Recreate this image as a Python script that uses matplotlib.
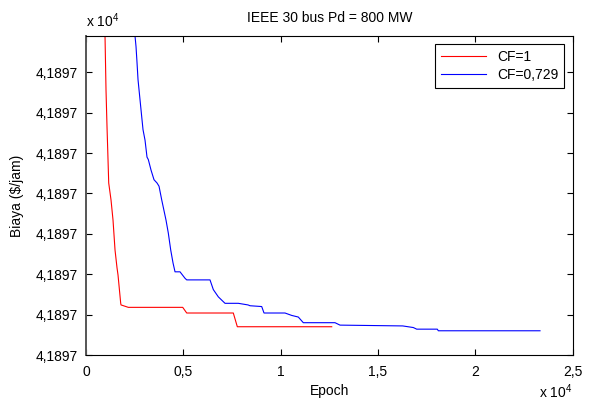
import numpy as np
from matplotlib import pyplot as plt
from matplotlib.ticker import FuncFormatter, MultipleLocator

plt.rcParams['font.family'] = ['Liberation Sans', 'DejaVu Sans']
plt.rcParams['mathtext.fontset'] = 'custom'
plt.rcParams['mathtext.rm'] = 'Liberation Sans'

# CF = 1
epoch_cf1 = [950, 976, 1027, 1079, 1115, 1166, 1284, 1387, 1490, 1592, 1644,
             1782, 1798, 2173, 4967, 5173, 7566, 7772, 12621]
cost_cf1 = [41897.415, 41897.395, 41897.328, 41897.282, 41897.254, 41897.213,
            41897.192, 41897.167, 41897.130, 41897.108, 41897.099, 41897.064,
            41897.062, 41897.059, 41897.059, 41897.052, 41897.052, 41897.035,
            41897.035]

# CF = 0,729
epoch_cf2 = [2491, 2517, 2568, 2620, 2671, 2774, 2861, 2928, 3031, 3133, 3200,
             3339, 3493, 3647, 3750, 3889, 4109, 4227, 4351, 4469, 4572, 4828,
             5085, 5173, 6369, 6539, 6796, 7140, 7823, 8321, 8424, 9025, 9143,
             10222, 10566, 10905, 11162, 12790, 13047, 16268, 16813, 16987,
             18045, 18097, 23321]
cost_cf2 = [41897.415, 41897.395, 41897.382, 41897.362, 41897.341, 41897.316,
            41897.295, 41897.279, 41897.266, 41897.245, 41897.242, 41897.229,
            41897.217, 41897.213, 41897.209, 41897.192, 41897.167, 41897.151,
            41897.130, 41897.114, 41897.103, 41897.103, 41897.095, 41897.093,
            41897.093, 41897.081, 41897.072, 41897.064, 41897.064, 41897.062,
            41897.061, 41897.060, 41897.052, 41897.052, 41897.049, 41897.047,
            41897.040, 41897.040, 41897.037, 41897.036, 41897.034, 41897.032,
            41897.032, 41897.030, 41897.030]

fig = plt.figure(figsize=(5.92, 4.03), dpi=100)
ax = fig.add_axes([0.1453, 0.1191, 0.8221, 0.7916])

ax.plot(epoch_cf1, cost_cf1, color='#ff0000', lw=0.8, label='CF=1')
ax.plot(epoch_cf2, cost_cf2, color='#0000ff', lw=0.8, label='CF=0,729')

ax.set_xlim(0, 25000)
ax.set_ylim(41897.0, 41897.395)
ax.xaxis.set_major_locator(MultipleLocator(5000))
ax.yaxis.set_major_locator(MultipleLocator(0.05))


def x_fmt(v, pos):
    return f"{v / 1e4:.1f}".rstrip('0').rstrip('.').replace('.', ',')


def y_fmt(v, pos):
    return f"{v / 1e4:.4f}".replace('.', ',')


ax.xaxis.set_major_formatter(FuncFormatter(x_fmt))
ax.yaxis.set_major_formatter(FuncFormatter(y_fmt))

ax.tick_params(direction='in', length=4, width=0.8, top=True, right=True,
               labelsize=10, colors='black')
ax.tick_params(axis='y', pad=6)
ax.tick_params(axis='x', pad=7)
for s in ax.spines.values():
    s.set_linewidth(0.8)
ax.spines['left'].set_color('#555555')
ax.spines['left'].set_linewidth(1.4)

ax.set_title('IEEE 30 bus Pd = 800 MW', fontsize=10, pad=10)
ax.set_xlabel('Epoch', fontsize=10, labelpad=4)
ax.set_ylabel('Biaya (\\$/jam)', fontsize=10, labelpad=8)

# multiplier labels, MATLAB style
ax.text(0, 1.02, r'x 10$^4$', transform=ax.transAxes, fontsize=10,
        ha='left', va='bottom')
fig.text(0.9674, 0.006, r'x 10$^4$', fontsize=10, ha='right', va='bottom')

leg = ax.legend(loc='upper right', fontsize=10, fancybox=False,
                edgecolor='black', framealpha=1, handlelength=3.3,
                borderaxespad=0.6, borderpad=0.4, labelspacing=0.3)
leg.get_frame().set_linewidth(0.8)

fig.savefig('out.png', dpi=100)
